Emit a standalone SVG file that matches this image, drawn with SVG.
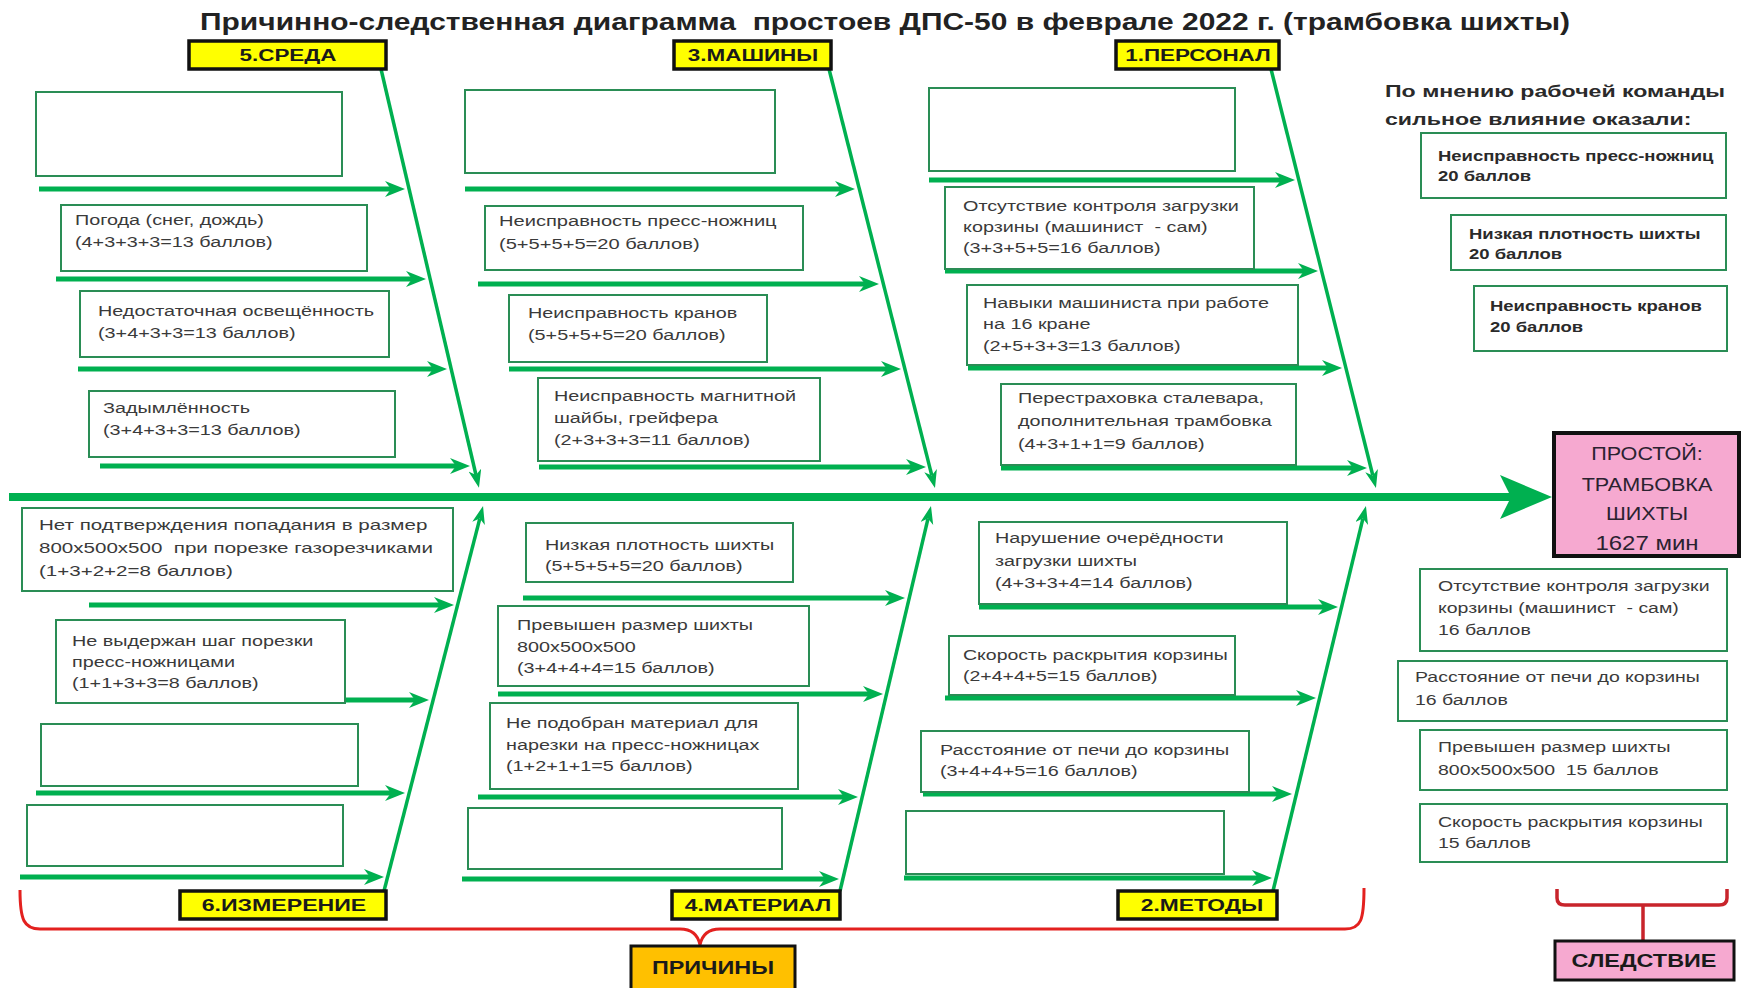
<svg xmlns="http://www.w3.org/2000/svg" width="1744" height="988" viewBox="0 0 1744 988">
<defs>
<style>
.bg{fill:#ffffff}
.box{fill:#ffffff;stroke:#2a8d55;stroke-width:2}
.cat{fill:#ffff00;stroke:#111;stroke-width:3.5}
.t{font-family:"Liberation Sans",Arial,sans-serif;font-size:15px;fill:#3a3a3a;white-space:pre}
.tb{font-family:"Liberation Sans",Arial,sans-serif;font-size:14px;font-weight:bold;fill:#2a2a2a;white-space:pre}
.ct{font-family:"Liberation Sans",Arial,sans-serif;font-size:17px;font-weight:bold;fill:#1a1a1a;text-anchor:middle}
.hd{font-family:"Liberation Sans",Arial,sans-serif;font-size:17px;font-weight:bold;fill:#2a2a2a}
.ef{font-family:"Liberation Sans",Arial,sans-serif;font-size:18px;fill:#2b2230;text-anchor:middle}
.bone{stroke:#00b050;stroke-width:3.5;fill:none;marker-end:url(#bh)}
.arr{stroke:#00b050;stroke-width:5;fill:none;marker-end:url(#ah)}
.brace{stroke:#e3211f;stroke-width:3;fill:none}
</style>
<marker id="ah" markerUnits="userSpaceOnUse" markerWidth="22" markerHeight="18" refX="6" refY="8" orient="auto">
<path d="M0,0 L20,8 L0,16 L6,8 z" fill="#00b050"/>
</marker>
<marker id="bh" markerUnits="userSpaceOnUse" markerWidth="20" markerHeight="14" refX="5" refY="6.5" orient="auto">
<path d="M0,0 L18,6.5 L0,13 L5,6.5 z" fill="#00b050"/>
</marker>
</defs>
<rect class="bg" x="0" y="0" width="1744" height="988"/>

<text id="title" x="200" y="30" font-family="Liberation Sans, Arial, sans-serif" font-size="24" font-weight="bold" fill="#222" textLength="1370" lengthAdjust="spacingAndGlyphs" style="white-space:pre">Причинно-следственная диаграмма  простоев ДПС-50 в феврале 2022 г. (трамбовка шихты)</text>

<g id="connectors">
<line x1="9" y1="497" x2="1512" y2="497" stroke="#00b050" stroke-width="8"/>
<polygon points="1500,475 1552,497 1500,519 1511,497" fill="#00b050"/>
<line class="bone" x1="381" y1="69" x2="476" y2="475"/>
<line class="bone" x1="829" y1="69" x2="931.8" y2="475.4"/>
<line class="bone" x1="1271" y1="69" x2="1372.8" y2="475.4"/>
<line class="bone" x1="384" y1="891" x2="479.8" y2="518.6"/>
<line class="bone" x1="840" y1="891" x2="928" y2="518.6"/>
<line class="bone" x1="1273" y1="891" x2="1362.9" y2="518.6"/>

<line class="arr" x1="39" y1="189" x2="391" y2="189"/>
<line class="arr" x1="56" y1="279" x2="412" y2="279"/>
<line class="arr" x1="78" y1="369" x2="433" y2="369"/>
<line class="arr" x1="100" y1="466" x2="456" y2="466"/>

<line class="arr" x1="465" y1="189" x2="841" y2="189"/>
<line class="arr" x1="478" y1="284" x2="865" y2="284"/>
<line class="arr" x1="509" y1="369" x2="887" y2="369"/>
<line class="arr" x1="539" y1="467" x2="912" y2="467"/>

<line class="arr" x1="929" y1="180" x2="1281" y2="180"/>
<line class="arr" x1="945" y1="271" x2="1304" y2="271"/>
<line class="arr" x1="968" y1="368" x2="1328" y2="368"/>
<line class="arr" x1="1001" y1="468" x2="1353" y2="468"/>

<line class="arr" x1="89" y1="605" x2="440" y2="605"/>
<line class="arr" x1="56" y1="700" x2="415" y2="700"/>
<line class="arr" x1="36" y1="793" x2="391" y2="793"/>
<line class="arr" x1="20" y1="877" x2="370" y2="877"/>

<line class="arr" x1="523" y1="598" x2="891" y2="598"/>
<line class="arr" x1="498" y1="694" x2="869" y2="694"/>
<line class="arr" x1="478" y1="797" x2="844" y2="797"/>
<line class="arr" x1="462" y1="879" x2="825" y2="879"/>

<line class="arr" x1="979" y1="607" x2="1324" y2="607"/>
<line class="arr" x1="945" y1="698" x2="1302" y2="698"/>
<line class="arr" x1="923" y1="794" x2="1278" y2="794"/>
<line class="arr" x1="904" y1="878" x2="1258" y2="878"/>

<path class="brace" d="M20,890 C20,920 24,929 40,929 L680,929 C692,929 698,935 700,945 C702,935 708,929 720,929 L1345,929 C1361,929 1364,920 1364,888"/>
<path d="M1557,889 L1557,898 Q1557,905 1565,905 L1719,905 Q1727,905 1727,898 L1727,889 M1643,905 L1643,941" stroke="#c8242b" stroke-width="3.5" fill="none"/>
</g>

<g id="cat-5"><rect class="cat" x="189" y="41" width="197" height="28"/><text class="ct" transform="translate(288 61) scale(1.32 1)">5.СРЕДА</text></g>
<g id="cat-3"><rect class="cat" x="674" y="41" width="157" height="28"/><text class="ct" transform="translate(753 61) scale(1.32 1)">3.МАШИНЫ</text></g>
<g id="cat-1"><rect class="cat" x="1116" y="41" width="163" height="28"/><text class="ct" transform="translate(1198 61) scale(1.32 1)">1.ПЕРСОНАЛ</text></g>
<g id="cat-6"><rect class="cat" x="180" y="891" width="206" height="28"/><text class="ct" transform="translate(284 911) scale(1.36 1)">6.ИЗМЕРЕНИЕ</text></g>
<g id="cat-4"><rect class="cat" x="672" y="891" width="168" height="28"/><text class="ct" transform="translate(758 911) scale(1.34 1)">4.МАТЕРИАЛ</text></g>
<g id="cat-2"><rect class="cat" x="1118" y="891" width="159" height="28"/><text class="ct" transform="translate(1202 911) scale(1.34 1)">2.МЕТОДЫ</text></g>

<g id="effect">
<rect x="1554" y="433" width="185" height="123" fill="#f6a9d0" stroke="#111" stroke-width="4"/>
<text class="ef" transform="translate(1647 460) scale(1.2 1)">ПРОСТОЙ:</text>
<text class="ef" transform="translate(1647 491) scale(1.2 1)">ТРАМБОВКА</text>
<text class="ef" transform="translate(1647 520) scale(1.2 1)">ШИХТЫ</text>
<text class="ef" transform="translate(1647 550) scale(1.2 1)" style="font-size:20px">1627 мин</text>
</g>

<!-- 5. Среда -->
<g id="env-1"><rect class="box" x="36" y="92" width="306" height="84"/></g>
<g id="env-2"><rect class="box" x="61" y="205" width="306" height="66"/>
<text class="t" transform="translate(75 225) scale(1.32 1)"><tspan x="0" y="0">Погода (снег, дождь)</tspan><tspan x="0" y="22">(4+3+3+3=13 баллов)</tspan></text></g>
<g id="env-3"><rect class="box" x="80" y="291" width="309" height="66"/>
<text class="t" transform="translate(98 316) scale(1.32 1)"><tspan x="0" y="0">Недостаточная освещённость</tspan><tspan x="0" y="22">(3+4+3+3=13 баллов)</tspan></text></g>
<g id="env-4"><rect class="box" x="89" y="391" width="306" height="66"/>
<text class="t" transform="translate(103 413) scale(1.32 1)"><tspan x="0" y="0">Задымлённость</tspan><tspan x="0" y="22">(3+4+3+3=13 баллов)</tspan></text></g>

<!-- 3. Машины -->
<g id="mach-1"><rect class="box" x="465" y="90" width="310" height="83"/></g>
<g id="mach-2"><rect class="box" x="485" y="206" width="318" height="64"/>
<text class="t" transform="translate(499 226) scale(1.34 1)"><tspan x="0" y="0">Неисправность пресс-ножниц</tspan><tspan x="0" y="23">(5+5+5+5=20 баллов)</tspan></text></g>
<g id="mach-3"><rect class="box" x="509" y="295" width="258" height="67"/>
<text class="t" transform="translate(528 318) scale(1.32 1)"><tspan x="0" y="0">Неисправность кранов</tspan><tspan x="0" y="22">(5+5+5+5=20 баллов)</tspan></text></g>
<g id="mach-4"><rect class="box" x="538" y="378" width="282" height="83"/>
<text class="t" transform="translate(554 401) scale(1.32 1)"><tspan x="0" y="0">Неисправность магнитной</tspan><tspan x="0" y="22">шайбы, грейфера</tspan><tspan x="0" y="44">(2+3+3+3=11 баллов)</tspan></text></g>

<!-- 1. Персонал -->
<g id="pers-1"><rect class="box" x="929" y="88" width="306" height="83"/></g>
<g id="pers-2"><rect class="box" x="945" y="187" width="309" height="82"/>
<text class="t" transform="translate(963 211) scale(1.32 1)"><tspan x="0" y="0">Отсутствие контроля загрузки</tspan><tspan x="0" y="21">корзины (машинист  - сам)</tspan><tspan x="0" y="42">(3+3+5+5=16 баллов)</tspan></text></g>
<g id="pers-3"><rect class="box" x="967" y="285" width="331" height="80"/>
<text class="t" transform="translate(983 308) scale(1.32 1)"><tspan x="0" y="0">Навыки машиниста при работе</tspan><tspan x="0" y="21">на 16 кране</tspan><tspan x="0" y="43">(2+5+3+3=13 баллов)</tspan></text></g>
<g id="pers-4"><rect class="box" x="1001" y="384" width="295" height="81"/>
<text class="t" transform="translate(1018 403) scale(1.32 1)"><tspan x="0" y="0">Перестраховка сталевара,</tspan><tspan x="0" y="23">дополнительная трамбовка</tspan><tspan x="0" y="46">(4+3+1+1=9 баллов)</tspan></text></g>

<!-- 6. Измерение -->
<g id="meas-1"><rect class="box" x="22" y="508" width="431" height="83"/>
<text class="t" transform="translate(39 530) scale(1.37 1)"><tspan x="0" y="0">Нет подтверждения попадания в размер</tspan><tspan x="0" y="23">800х500х500  при порезке газорезчиками</tspan><tspan x="0" y="46">(1+3+2+2=8 баллов)</tspan></text></g>
<g id="meas-2"><rect class="box" x="56" y="620" width="289" height="83"/>
<text class="t" transform="translate(72 646) scale(1.32 1)"><tspan x="0" y="0">Не выдержан шаг порезки</tspan><tspan x="0" y="21">пресс-ножницами</tspan><tspan x="0" y="42">(1+1+3+3=8 баллов)</tspan></text></g>
<g id="meas-3"><rect class="box" x="41" y="724" width="317" height="62"/></g>
<g id="meas-4"><rect class="box" x="27" y="805" width="316" height="61"/></g>

<!-- 4. Материал -->
<g id="mat-1"><rect class="box" x="526" y="523" width="267" height="59"/>
<text class="t" transform="translate(545 550) scale(1.32 1)"><tspan x="0" y="0">Низкая плотность шихты</tspan><tspan x="0" y="21">(5+5+5+5=20 баллов)</tspan></text></g>
<g id="mat-2"><rect class="box" x="498" y="606" width="311" height="80"/>
<text class="t" transform="translate(517 630) scale(1.32 1)"><tspan x="0" y="0">Превышен размер шихты</tspan><tspan x="0" y="22">800х500х500</tspan><tspan x="0" y="43">(3+4+4+4=15 баллов)</tspan></text></g>
<g id="mat-3"><rect class="box" x="490" y="703" width="308" height="86"/>
<text class="t" transform="translate(506 728) scale(1.32 1)"><tspan x="0" y="0">Не подобран материал для</tspan><tspan x="0" y="22">нарезки на пресс-ножницах</tspan><tspan x="0" y="43">(1+2+1+1=5 баллов)</tspan></text></g>
<g id="mat-4"><rect class="box" x="468" y="808" width="314" height="61"/></g>

<!-- 2. Методы -->
<g id="meth-1"><rect class="box" x="979" y="522" width="308" height="82"/>
<text class="t" transform="translate(995 543) scale(1.32 1)"><tspan x="0" y="0">Нарушение очерёдности</tspan><tspan x="0" y="23">загрузки шихты</tspan><tspan x="0" y="45">(4+3+3+4=14 баллов)</tspan></text></g>
<g id="meth-2"><rect class="box" x="949" y="636" width="286" height="59"/>
<text class="t" transform="translate(963 660) scale(1.3 1)"><tspan x="0" y="0">Скорость раскрытия корзины</tspan><tspan x="0" y="21">(2+4+4+5=15 баллов)</tspan></text></g>
<g id="meth-3"><rect class="box" x="921" y="731" width="328" height="61"/>
<text class="t" transform="translate(940 755) scale(1.32 1)"><tspan x="0" y="0">Расстояние от печи до корзины</tspan><tspan x="0" y="21">(3+4+4+5=16 баллов)</tspan></text></g>
<g id="meth-4"><rect class="box" x="906" y="811" width="318" height="63"/></g>

<!-- Summary -->
<g id="summary-head">
<text class="hd" transform="translate(1385 97) scale(1.36 1)">По мнению рабочей команды</text>
<text class="hd" transform="translate(1385 125) scale(1.36 1)">сильное влияние оказали:</text>
</g>
<g id="top-1"><rect class="box" x="1421" y="133" width="305" height="65"/>
<text class="tb" transform="translate(1438 161) scale(1.32 1)"><tspan x="0" y="0">Неисправность пресс-ножниц</tspan><tspan x="0" y="20">20 баллов</tspan></text></g>
<g id="top-2"><rect class="box" x="1451" y="215" width="275" height="55"/>
<text class="tb" transform="translate(1469 239) scale(1.32 1)"><tspan x="0" y="0">Низкая плотность шихты</tspan><tspan x="0" y="20">20 баллов</tspan></text></g>
<g id="top-3"><rect class="box" x="1474" y="286" width="253" height="65"/>
<text class="tb" transform="translate(1490 311) scale(1.32 1)"><tspan x="0" y="0">Неисправность кранов</tspan><tspan x="0" y="21">20 баллов</tspan></text></g>
<g id="eff-1"><rect class="box" x="1420" y="569" width="307" height="82"/>
<text class="t" transform="translate(1438 591) scale(1.3 1)"><tspan x="0" y="0">Отсутствие контроля загрузки</tspan><tspan x="0" y="22">корзины (машинист  - сам)</tspan><tspan x="0" y="44">16 баллов</tspan></text></g>
<g id="eff-2"><rect class="box" x="1398" y="661" width="329" height="60"/>
<text class="t" transform="translate(1415 682) scale(1.3 1)"><tspan x="0" y="0">Расстояние от печи до корзины</tspan><tspan x="0" y="23">16 баллов</tspan></text></g>
<g id="eff-3"><rect class="box" x="1420" y="730" width="307" height="60"/>
<text class="t" transform="translate(1438 752) scale(1.3 1)"><tspan x="0" y="0">Превышен размер шихты</tspan><tspan x="0" y="23">800х500х500  15 баллов</tspan></text></g>
<g id="eff-4"><rect class="box" x="1420" y="804" width="307" height="58"/>
<text class="t" transform="translate(1438 827) scale(1.3 1)"><tspan x="0" y="0">Скорость раскрытия корзины</tspan><tspan x="0" y="21">15 баллов</tspan></text></g>

<g id="causes-label"><rect x="631" y="946" width="164" height="50" fill="#ffc000" stroke="#111" stroke-width="3"/>
<text class="ct" transform="translate(713 974) scale(1.3 1)" style="font-size:18px">ПРИЧИНЫ</text></g>
<g id="effect-label"><rect x="1555" y="941" width="179" height="39" fill="#f6a9d0" stroke="#111" stroke-width="3"/>
<text class="ct" transform="translate(1644 967) scale(1.3 1)" style="font-size:18px">СЛЕДСТВИЕ</text></g>
</svg>
